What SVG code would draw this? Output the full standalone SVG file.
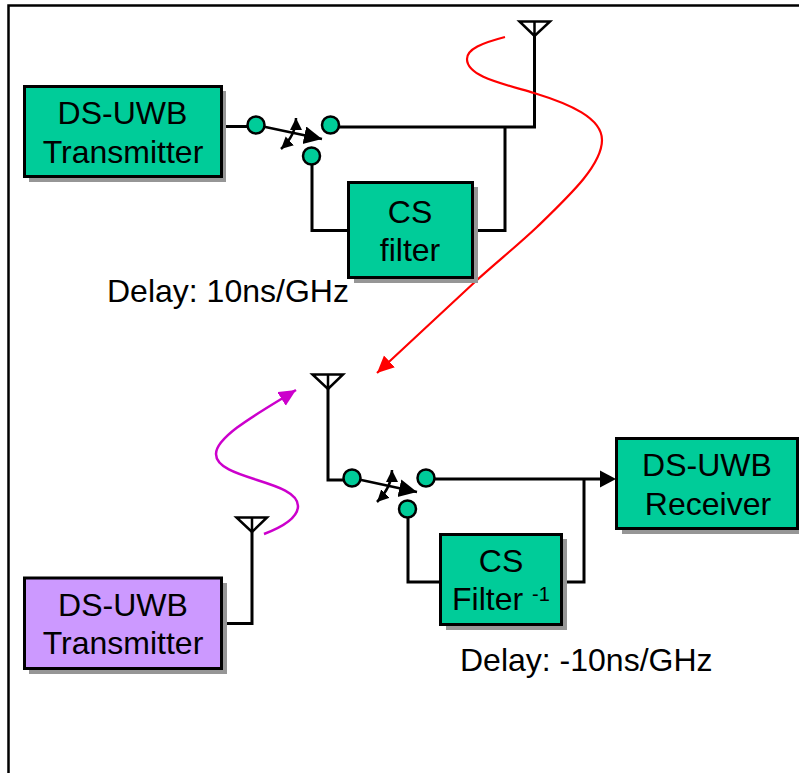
<svg xmlns="http://www.w3.org/2000/svg" width="799" height="773" viewBox="0 0 799 773">
<style>
.shadow{fill:#969696;stroke:none}
.box{stroke:#000;stroke-width:3}
.green{fill:#00cc99}
.purple{fill:#cc99ff}
.wire{fill:none;stroke:#000;stroke-width:3;stroke-linejoin:miter}
.thin{fill:none;stroke:#000;stroke-width:2.500}
.dot{fill:#00cc99;stroke:#000;stroke-width:2.500}
.ant{fill:none;stroke:#000;stroke-width:2.500;stroke-linejoin:miter}
text{font-family:"Liberation Sans",Arial,sans-serif;font-size:32px;fill:#000}
.c{text-anchor:middle}
</style>
<defs>
<marker id="ah" markerUnits="userSpaceOnUse" markerWidth="20" markerHeight="20" refX="18" refY="9" orient="auto"><path d="M0 0L18 9L0 18Z" fill="#000"/></marker>
<marker id="as" markerUnits="userSpaceOnUse" markerWidth="14" markerHeight="14" refX="12" refY="6" orient="auto"><path d="M0 0L12 6L0 12Z" fill="#000"/></marker>
<marker id="as2" markerUnits="userSpaceOnUse" markerWidth="14" markerHeight="14" refX="0" refY="6" orient="auto"><path d="M12 0L0 6L12 12Z" fill="#000"/></marker>
<marker id="ar" markerUnits="userSpaceOnUse" markerWidth="20" markerHeight="20" refX="17" refY="8" orient="auto"><path d="M0 0L17 8L0 16Z" fill="#ff0000"/></marker>
<marker id="am" markerUnits="userSpaceOnUse" markerWidth="20" markerHeight="20" refX="17" refY="8" orient="auto"><path d="M0 0L17 8L0 16Z" fill="#cc00cc"/></marker>
</defs>
<rect width="799" height="773" fill="#fff"/>
<path id="frame" d="M8.500 773V5.500H799" fill="none" stroke="#000" stroke-width="2.500"/>
<g id="connectors">
<path class="wire" d="M226 126.500H256M330 127H534.500V36M505 127V230.500H477M312 156V230.500H349"/>
<path class="wire" d="M328 389V480H352M426 479H602M584 479V582H566M408 509V582H440M252 532V623.500H226"/>
<path d="M600 470.500L616 479L600 487.500Z" fill="#000"/>
<path class="thin" d="M256 125L322 139" marker-end="url(#ah)"/>
<path class="thin" d="M352 478L417 492" marker-end="url(#ah)"/>
<path class="thin" d="M296 118Q296 135 281 149" marker-start="url(#as2)" marker-end="url(#as)"/>
<path class="thin" d="M392 470Q392 487 377 502" marker-start="url(#as2)" marker-end="url(#as)"/>
<path d="M505 37C482 43 467 49 467 59C467 76 500 83 534 93C570 104 602 118 602 140C602 165 570 195 537 227C518 245 498 261 477 280L377 373" fill="none" stroke="#ff0000" stroke-width="2.200" marker-end="url(#ar)"/>
<path d="M264 534C285 526 298 517 298 506C298 480 216 480 216 454C216 436 262 411 296 390" fill="none" stroke="#cc00cc" stroke-width="2.500" marker-end="url(#am)"/>
</g>
<g id="antenna1"><path class="ant" d="M519.500 21.500H550L534.500 36ZM534.500 21.500V36"/></g>
<g id="antenna2"><path class="ant" d="M312.500 374.500H343L328 389ZM328 374.500V389"/></g>
<g id="antenna3"><path class="ant" d="M236.500 517.500H267L252 532ZM252 517.500V532"/></g>
<g id="switch1"><circle class="dot" cx="256" cy="125" r="8.500"/><circle class="dot" cx="330.500" cy="125" r="8.500"/><circle class="dot" cx="311.500" cy="156" r="8.500"/></g>
<g id="switch2"><circle class="dot" cx="352" cy="478" r="8.500"/><circle class="dot" cx="426" cy="478" r="8.500"/><circle class="dot" cx="407.500" cy="509" r="8.500"/></g>
<g id="tx1"><rect class="shadow" x="29" y="91" width="197" height="91"/><rect class="box green" x="24.500" y="86.500" width="197" height="90"/><text class="c" x="122.500" y="124">DS-UWB</text><text class="c" x="123" y="163">Transmitter</text></g>
<g id="csfilter"><rect class="shadow" x="354" y="187" width="124" height="96"/><rect class="box green" x="348.500" y="182.500" width="124" height="95"/><text class="c" x="410" y="223">CS</text><text class="c" x="410" y="261">filter</text></g>
<g id="rx"><rect class="shadow" x="622" y="444" width="177" height="90"/><rect class="box green" x="616.500" y="438.500" width="181" height="90"/><text class="c" x="707" y="476">DS-UWB</text><text class="c" x="708" y="515">Receiver</text></g>
<g id="csfilterinv"><rect class="shadow" x="446" y="539" width="121" height="91"/><rect class="box green" x="440.500" y="534.500" width="121" height="90"/><text class="c" x="501" y="572">CS</text><text x="452" y="610">Filter <tspan font-size="20" dy="-9">-1</tspan></text></g>
<g id="tx2"><rect class="shadow" x="29" y="583" width="198" height="91"/><rect class="box purple" x="24.500" y="578" width="197" height="90.500"/><text class="c" x="123" y="616">DS-UWB</text><text class="c" x="123" y="654">Transmitter</text></g>
<text id="delay1" x="107" y="302">Delay: 10ns/GHz</text>
<text id="delay2" x="460" y="671">Delay: -10ns/GHz</text>
</svg>
